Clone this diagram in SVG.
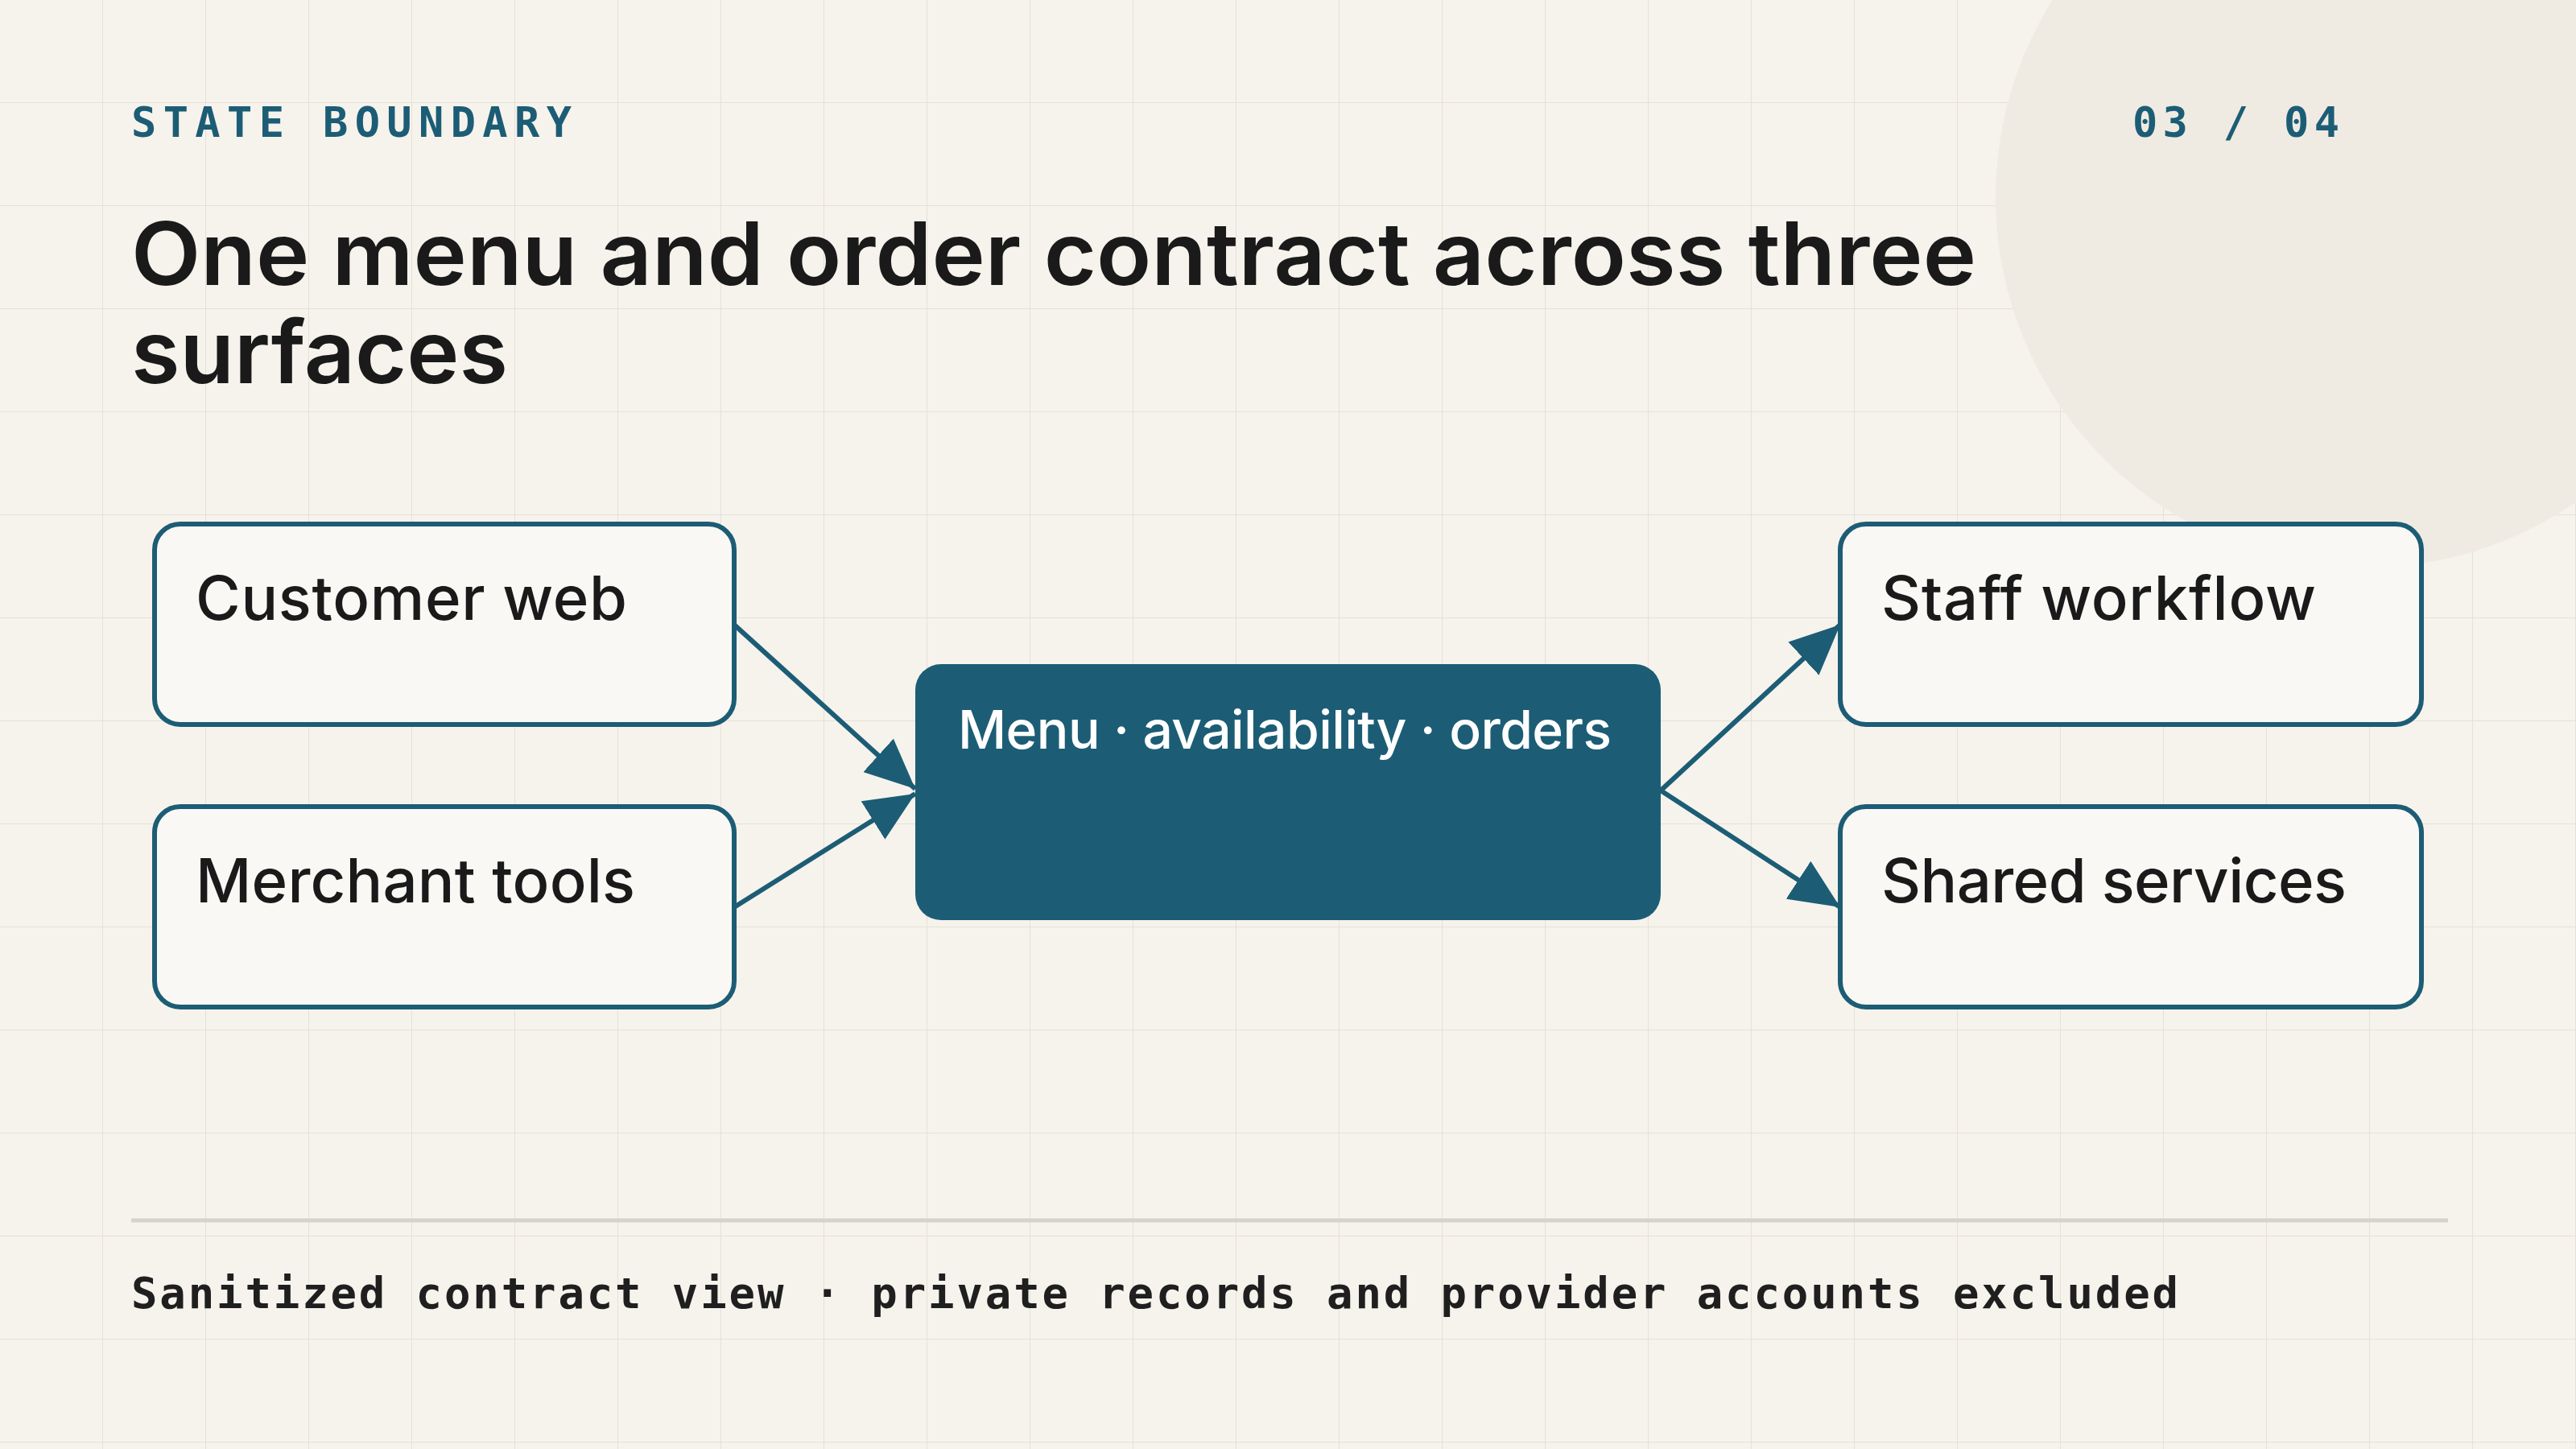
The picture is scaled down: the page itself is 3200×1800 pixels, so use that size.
<svg xmlns="http://www.w3.org/2000/svg" width="3200" height="1800" viewBox="0 0 3200 1800">
<defs>
<pattern id="grid" width="128" height="128" patternUnits="userSpaceOnUse">
<path d="M128 0V128M0 128H128" fill="none" stroke="#e5e1d8" stroke-width="2"/>
</pattern>
<marker id="ahb" viewBox="0 0 10 10" refX="10" refY="5" markerWidth="62" markerHeight="56" markerUnits="userSpaceOnUse" orient="auto" preserveAspectRatio="none">
<path d="M0 0L10 5L0 10Z" fill="#1c5d75"/>
</marker>
</defs>
<style>
.box{fill:#faf8f4;stroke:#1c5d75;stroke-width:6}
.lbl{font-family:Inter,"Noto Sans",sans-serif;font-size:76px;fill:#1a1a1a;font-weight:500}
.mono{font-family:"DejaVu Sans Mono","Liberation Mono",monospace;font-weight:bold}
.edge{stroke:#1c5d75;stroke-width:6;fill:none;marker-end:url(#ahb)}
</style>
<rect width="3200" height="1800" fill="#f6f3ec"/>
<rect width="3200" height="1800" fill="url(#grid)"/>
<circle cx="2939" cy="245" r="460" fill="#efebe3"/>
<text x="163" y="170" class="mono" font-size="52" fill="#1c5d75" textLength="547" lengthAdjust="spacing">STATE BOUNDARY</text>
<text x="2649" y="170" class="mono" font-size="52" fill="#1c5d75" textLength="257" lengthAdjust="spacing">03 / 04</text>
<text font-family="Inter,'Noto Sans',sans-serif" font-size="108" font-weight="600" fill="#1a1a1a"><tspan x="163" y="354" textLength="2292" lengthAdjust="spacingAndGlyphs">One menu and order contract across three</tspan><tspan x="163" y="476" textLength="468" lengthAdjust="spacingAndGlyphs">surfaces</tspan></text>
<g id="connectors">
<line class="edge" x1="912" y1="776" x2="1137" y2="980"/>
<line class="edge" x1="912" y1="1127" x2="1137" y2="986"/>
<line class="edge" x1="2063" y1="982" x2="2286" y2="776"/>
<line class="edge" x1="2063" y1="982" x2="2286" y2="1127"/>
</g>
<g id="customer-web"><rect class="box" x="192" y="651" width="720" height="249" rx="32"/><text class="lbl" x="243" y="770" textLength="536">Customer web</text></g>
<g id="merchant-tools"><rect class="box" x="192" y="1002" width="720" height="249" rx="32"/><text class="lbl" x="243" y="1121" textLength="546">Merchant tools</text></g>
<g id="core"><rect x="1137" y="825" width="926" height="318" rx="32" fill="#1c5d75"/><text x="1190" y="930" font-family="Inter,'Noto Sans',sans-serif" font-size="66" font-weight="500" fill="#ffffff" textLength="812">Menu · availability · orders</text></g>
<g id="staff-workflow"><rect class="box" x="2286" y="651" width="722" height="249" rx="32"/><text class="lbl" x="2337" y="770" textLength="540">Staff workflow</text></g>
<g id="shared-services"><rect class="box" x="2286" y="1002" width="722" height="249" rx="32"/><text class="lbl" x="2337" y="1121" textLength="578">Shared services</text></g>
<line x1="163" y1="1516" x2="3041" y2="1516" stroke="#d6d3cc" stroke-width="5"/>
<text x="163" y="1625" class="mono" font-size="54" fill="#1f1f1f" textLength="2543" lengthAdjust="spacing">Sanitized contract view · private records and provider accounts excluded</text>
</svg>
